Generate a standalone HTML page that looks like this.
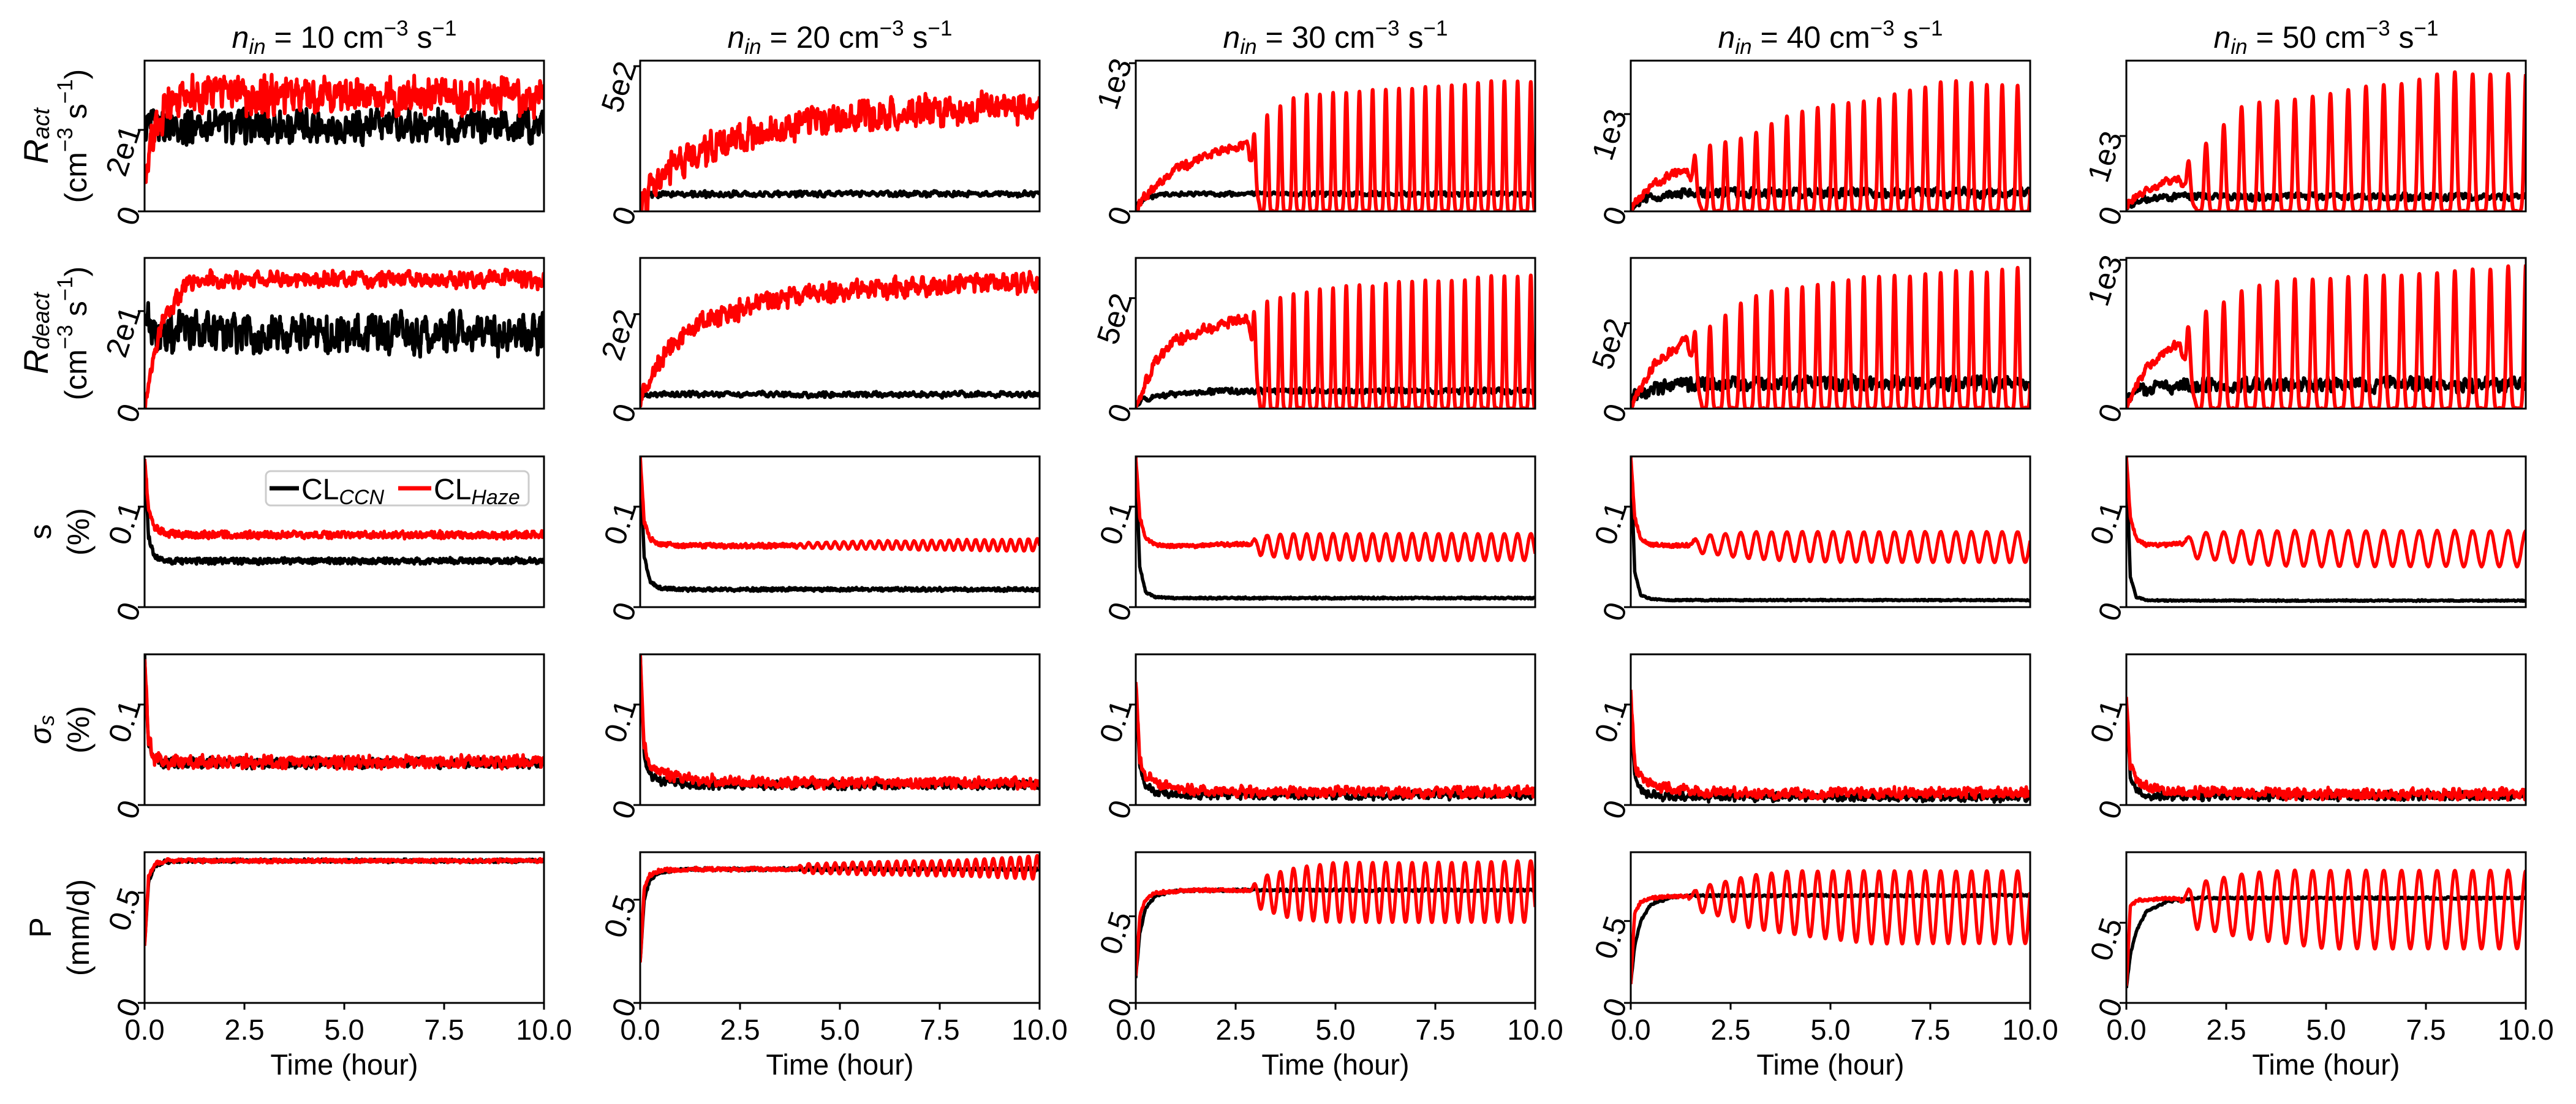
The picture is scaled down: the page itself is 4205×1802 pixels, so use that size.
<!DOCTYPE html>
<html><head><meta charset="utf-8"><style>
html,body{margin:0;padding:0;background:#fff}
svg{display:block}
text{font-family:"Liberation Sans",sans-serif;fill:#000}
</style></head><body>
<svg id="fig" xmlns="http://www.w3.org/2000/svg" width="4205" height="1802" viewBox="0 0 4205 1802">
<rect x="0" y="0" width="4205" height="1802" fill="#fff"/>
<g font-size="50" text-anchor="middle">
<text x="562" y="78"><tspan font-style="italic">n</tspan><tspan font-style="italic" font-size="35" dy="10">in</tspan><tspan dy="-10"> = 10 cm</tspan><tspan font-size="35" dy="-20">−3</tspan><tspan dy="20"> s</tspan><tspan font-size="35" dy="-20">−1</tspan></text>
<text x="1371" y="78"><tspan font-style="italic">n</tspan><tspan font-style="italic" font-size="35" dy="10">in</tspan><tspan dy="-10"> = 20 cm</tspan><tspan font-size="35" dy="-20">−3</tspan><tspan dy="20"> s</tspan><tspan font-size="35" dy="-20">−1</tspan></text>
<text x="2180" y="78"><tspan font-style="italic">n</tspan><tspan font-style="italic" font-size="35" dy="10">in</tspan><tspan dy="-10"> = 30 cm</tspan><tspan font-size="35" dy="-20">−3</tspan><tspan dy="20"> s</tspan><tspan font-size="35" dy="-20">−1</tspan></text>
<text x="2988" y="78"><tspan font-style="italic">n</tspan><tspan font-style="italic" font-size="35" dy="10">in</tspan><tspan dy="-10"> = 40 cm</tspan><tspan font-size="35" dy="-20">−3</tspan><tspan dy="20"> s</tspan><tspan font-size="35" dy="-20">−1</tspan></text>
<text x="3797" y="78"><tspan font-style="italic">n</tspan><tspan font-style="italic" font-size="35" dy="10">in</tspan><tspan dy="-10"> = 50 cm</tspan><tspan font-size="35" dy="-20">−3</tspan><tspan dy="20"> s</tspan><tspan font-size="35" dy="-20">−1</tspan></text>
</g>
<g font-size="50" text-anchor="middle" dominant-baseline="central">
<text transform="translate(58,222) rotate(-90)" font-size="56"><tspan font-style="italic">R</tspan><tspan font-style="italic" font-size="38" dy="10">act</tspan></text>
<text transform="translate(124,222) rotate(-90)">(cm<tspan font-size="35" dy="-18">−3</tspan><tspan dy="18"> s</tspan><tspan font-size="35" dy="-18">−1</tspan><tspan dy="18">)</tspan></text>
<text transform="translate(58,544) rotate(-90)" font-size="56"><tspan font-style="italic">R</tspan><tspan font-style="italic" font-size="38" dy="10">deact</tspan></text>
<text transform="translate(124,544) rotate(-90)">(cm<tspan font-size="35" dy="-18">−3</tspan><tspan dy="18"> s</tspan><tspan font-size="35" dy="-18">−1</tspan><tspan dy="18">)</tspan></text>
<text transform="translate(66,868) rotate(-90)">s</text>
<text transform="translate(128,868) rotate(-90)">(%)</text>
<text transform="translate(66,1191) rotate(-90)"><tspan font-style="italic">σ</tspan><tspan font-style="italic" font-size="35" dy="10">s</tspan></text>
<text transform="translate(128,1191) rotate(-90)">(%)</text>
<text transform="translate(66,1514) rotate(-90)">P</text>
<text transform="translate(128,1514) rotate(-90)">(mm/d)</text>
</g>
<g id="panels"></g>
<g>
<rect x="434" y="769" width="429" height="56" rx="8" fill="#fff" stroke="#cccccc" stroke-width="3"/>
<line x1="440" y1="797" x2="488" y2="797" stroke="#000" stroke-width="7"/>
<text x="492" y="815" font-size="48">CL<tspan font-style="italic" font-size="34" dy="8">CCN</tspan></text>
<line x1="650" y1="797" x2="704" y2="797" stroke="#ff0000" stroke-width="7"/>
<text x="708" y="815" font-size="48">CL<tspan font-style="italic" font-size="34" dy="8">Haze</tspan></text>
</g>
</svg>
<script>
// ---- data ----
const TIMES = [0,0.1,0.25,0.5,1,1.5,2,3,4,5,6,7,8,10];
const HOURS = [0,1,2,3,4,5,6,7,8,9,10];
const xTickValues = [0,2.5,5,7.5,10];
const xTickLabels = ['0.0','2.5','5.0','7.5','10.0'];

// row 1: R_act
const ractCcn = [
 [20,21,21,21,21,21,21,21,21,21,21,21,21,21],
 [30,50,58,60,60,60,60,60,60,60,60,60,60,60],
 [30,60,90,105,115,118,118,118,118,118,118,118,118,118],
 [40,70,110,140,170,185,190,190,190,190,190,190,190,190],
 [60,100,140,170,185,190,192,192,192,192,192,192,192,192]];
const ractHaze = [
 [8,14,20,25,28,28.5,28.5,28.5,28.5,28.5,28.5,28.5,28.5,28.5],
 [0,40,70,112,172,205,232,275,300,318,335,344,352,360],
 [0,60,110,168,286,337,404,460,460,460,460,460,460,460],
 [0,80,150,250,380,450,480,480,480,480,480,480,480,480],
 [60,120,200,280,400,440,460,460,460,460,460,460,460,460]];
const ractPeak = [null,null,
 [0,0,0,600,780,800,820,830,850,880,870],
 [0,0,680,780,1000,1100,1130,1240,1350,1300,1300],
 [0,0,900,1450,1470,1550,1660,1700,1850,1820,1830]];
const ractTrough = [null,null,[0,0,0,0,0,0,0,0,0,0,0],[0,0,0,0,0,0,0,0,0,0,0],[0,0,0,0,0,0,0,0,0,0,0]];
const ractNoiseCcn = [3.5,8,12,40,40];
const ractNoiseHaze = [4,45,25,40,40];
const ractYMax = [37,519,1017,1549,2000];
const ractTicks = [[0,20],[0,500],[0,1000],[0,1000],[0,1000]];
const ractTickLabels = [['0','2e1'],['0','5e2'],['0','1e3'],['0','1e3'],['0','1e3']];

// row 2: R_deact
const rdeactCcn = [
 [21,17,16,15.5,15.5,15.5,15.5,15.5,15.5,15.5,15.5,15.5,15.5,15.5],
 [20,28,30,30,30,30,30,30,30,30,30,30,30,30],
 [20,35,45,55,65,72,78,80,80,80,80,80,80,80],
 [40,70,90,110,130,140,145,148,148,148,148,148,148,148],
 [40,80,110,130,150,155,160,160,160,160,160,160,160,160]];
const rdeactHaze = [
 [0,6,12,19,25,26.5,26.5,26.5,26.5,26.5,26.5,26.5,26.5,26.5],
 [0,35,60,101,148,180,196,222,238,248,254,259,264,264],
 [0,60,120,216,306,340,374,420,420,420,420,420,420,420],
 [0,60,120,236,338,410,440,440,440,440,440,440,440,440],
 [0,80,150,270,400,450,450,450,450,450,450,450,450,450]];
const rdeactPeak = [null,null,
 [0,0,0,470,520,550,560,580,580,600,600],
 [0,0,483,658,709,730,774,774,803,803,832],
 [0,0,650,805,870,870,900,890,925,935,970]];
const rdeactTrough = [null,null,[0,0,0,0,0,0,0,0,0,0,0],[0,0,0,0,0,0,0,0,0,0,0],[0,0,0,0,0,0,0,0,0,0,0]];
const rdeactNoiseCcn = [3.5,5,10,35,40];
const rdeactNoiseHaze = [1.5,18,20,25,25];
const rdeactYMax = [30.9,319,682,882,1013];
const rdeactTicks = [[0,20],[0,200],[0,500],[0,500],[0,1000]];
const rdeactTickLabels = [['0','2e1'],['0','2e2'],['0','5e2'],['0','5e2'],['0','1e3']];

// row 3: s
const sCcn = [
 [0.15,0.07,0.05,0.046,0.046,0.046,0.046,0.046,0.046,0.046,0.046,0.046,0.046,0.046],
 [0.15,0.05,0.025,0.019,0.0176,0.0176,0.0176,0.0176,0.0176,0.0176,0.0176,0.0176,0.0176,0.0176],
 [0.15,0.04,0.015,0.01,0.009,0.009,0.009,0.009,0.009,0.009,0.009,0.009,0.009,0.009],
 [0.15,0.035,0.012,0.008,0.007,0.007,0.007,0.007,0.007,0.007,0.007,0.007,0.007,0.007],
 [0.15,0.03,0.01,0.007,0.0065,0.0065,0.0065,0.0065,0.0065,0.0065,0.0065,0.0065,0.0065,0.0065]];
const sHaze = [
 [0.15,0.095,0.08,0.074,0.072,0.072,0.072,0.072,0.072,0.072,0.072,0.072,0.072,0.072],
 [0.15,0.085,0.068,0.063,0.061,0.061,0.061,0.061,0.061,0.061,0.061,0.061,0.061,0.061],
 [0.15,0.09,0.068,0.062,0.061,0.061,0.062,0.063,0.063,0.063,0.063,0.063,0.063,0.063],
 [0.15,0.09,0.068,0.062,0.061,0.062,0.062,0.062,0.062,0.062,0.062,0.062,0.062,0.062],
 [0.15,0.09,0.068,0.062,0.062,0.065,0.065,0.065,0.065,0.065,0.065,0.065,0.065,0.065]];
const sPeak = [null,
 [0,0,0,0,0.064,0.065,0.066,0.066,0.067,0.067,0.068],
 [0,0,0,0.071,0.073,0.073,0.073,0.073,0.073,0.073,0.073],
 [0,0,0.072,0.075,0.075,0.075,0.075,0.075,0.075,0.075,0.075],
 [0,0,0.074,0.076,0.076,0.076,0.076,0.076,0.076,0.076,0.076]];
const sTrough = [null,
 [0,0,0,0,0.059,0.058,0.058,0.057,0.057,0.056,0.056],
 [0,0,0,0.052,0.048,0.047,0.0465,0.0465,0.0465,0.0465,0.0465],
 [0,0,0.053,0.048,0.046,0.045,0.0446,0.0446,0.0446,0.0446,0.0446],
 [0,0,0.048,0.043,0.041,0.0405,0.0405,0.0405,0.0405,0.0405,0.0405]];
const sNoiseCcn = [0.0025,0.0015,0.0008,0.0006,0.0006];
const sNoiseHaze = [0.003,0.002,0.0015,0.0015,0.0015];

// row 4: sigma_s
const sigCcn = [
 [0.15,0.06,0.045,0.042,0.042,0.042,0.042,0.042,0.042,0.042,0.042,0.042,0.042,0.042],
 [0.15,0.05,0.03,0.024,0.021,0.02,0.02,0.02,0.02,0.02,0.02,0.02,0.02,0.02],
 [0.12,0.04,0.02,0.013,0.01,0.01,0.01,0.01,0.01,0.01,0.01,0.01,0.01,0.01],
 [0.1,0.03,0.015,0.01,0.008,0.008,0.008,0.008,0.008,0.008,0.008,0.008,0.008,0.008],
 [0.1,0.03,0.015,0.01,0.009,0.009,0.009,0.009,0.009,0.009,0.009,0.009,0.009,0.009]];
const sigHaze = [
 [0.15,0.065,0.047,0.043,0.043,0.043,0.043,0.043,0.043,0.043,0.043,0.043,0.043,0.043],
 [0.15,0.06,0.04,0.032,0.027,0.025,0.024,0.023,0.022,0.022,0.022,0.022,0.022,0.022],
 [0.128,0.045,0.03,0.022,0.017,0.015,0.014,0.013,0.013,0.013,0.013,0.013,0.013,0.013],
 [0.115,0.04,0.028,0.02,0.016,0.014,0.013,0.012,0.012,0.012,0.012,0.012,0.012,0.012],
 [0.11,0.04,0.026,0.019,0.015,0.013,0.012,0.011,0.011,0.011,0.011,0.011,0.011,0.011]];
const sigNoiseCcn = [0.0045,0.0035,0.0035,0.0035,0.0035];
const sigNoiseHaze = [0.0055,0.0045,0.0045,0.0045,0.0045];
const pctYMax = [0.15,0.15,0.15,0.15,0.15];
const pctTicks = [[0,0.1],[0,0.1],[0,0.1],[0,0.1],[0,0.1]];
const pctTickLabels = [['0','0.1'],['0','0.1'],['0','0.1'],['0','0.1'],['0','0.1']];

// row 5: P
const pCcn = [
 [0.26,0.55,0.62,0.64,0.645,0.645,0.645,0.645,0.645,0.645,0.645,0.645,0.645,0.645],
 [0.2,0.5,0.6,0.63,0.645,0.648,0.648,0.648,0.648,0.648,0.648,0.648,0.648,0.648],
 [0.15,0.4,0.55,0.62,0.645,0.65,0.651,0.651,0.651,0.651,0.651,0.651,0.651,0.651],
 [0.12,0.35,0.5,0.6,0.645,0.655,0.655,0.655,0.655,0.655,0.655,0.655,0.655,0.655],
 [0.1,0.3,0.45,0.57,0.63,0.65,0.654,0.654,0.654,0.654,0.654,0.654,0.654,0.654]];
const pHaze = [
 [0.26,0.57,0.63,0.645,0.645,0.645,0.645,0.645,0.645,0.645,0.645,0.645,0.645,0.645],
 [0.2,0.55,0.62,0.64,0.645,0.648,0.648,0.648,0.648,0.648,0.648,0.648,0.648,0.648],
 [0.15,0.5,0.6,0.635,0.645,0.65,0.65,0.65,0.65,0.65,0.65,0.65,0.65,0.65],
 [0.12,0.55,0.62,0.64,0.65,0.65,0.65,0.65,0.65,0.65,0.65,0.65,0.65,0.65],
 [0.1,0.6,0.64,0.645,0.65,0.65,0.65,0.65,0.65,0.65,0.65,0.65,0.65,0.65]];
const pPeak = [null,
 [0,0,0,0,0.672,0.678,0.685,0.688,0.69,0.7,0.715],
 [0,0,0,0.72,0.78,0.81,0.81,0.81,0.81,0.815,0.82],
 [0,0,0.72,0.78,0.805,0.805,0.805,0.805,0.805,0.805,0.805],
 [0,0,0.76,0.81,0.826,0.826,0.826,0.826,0.826,0.826,0.826]];
const pTrough = [null,
 [0,0,0,0,0.63,0.625,0.62,0.618,0.615,0.607,0.6],
 [0,0,0,0.55,0.48,0.466,0.466,0.466,0.466,0.466,0.466],
 [0,0,0.55,0.456,0.42,0.39,0.362,0.362,0.362,0.362,0.362],
 [0,0,0.46,0.40,0.37,0.338,0.338,0.338,0.338,0.338,0.338]];
const pNoiseCcn = [0.006,0.006,0.006,0.006,0.006];
const pNoiseHaze = [0.007,0.008,0.008,0.008,0.008];
const pYMax = [0.684,0.73,0.87,0.92,0.94];
const pTicks = [[0,0.5],[0,0.5],[0,0.5],[0,0.5],[0,0.5]];
const pTickLabels = [['0','0.5'],['0','0.5'],['0','0.5'],['0','0.5'],['0','0.5']];

// oscillation timing per column
const firstPeak = [0,4.0,2.96,1.6,1.55];
const period = [0.3,0.22,0.33,0.385,0.445];

// ---- layout ----
const colX = [236,1045,1854,2662,3471];
const rowY = [99,421,745,1068,1391];
const PW = 652, PH = 246;
const NS = 'http://www.w3.org/2000/svg';

const rows = [
 {key:'ract', ccn:ractCcn, haze:ractHaze, peak:ractPeak, trough:ractTrough, nc:ractNoiseCcn, nh:ractNoiseHaze, ymax:ractYMax, ticks:ractTicks, tl:ractTickLabels, pulse:true, step:0.03, lw:6},
 {key:'rdeact', ccn:rdeactCcn, haze:rdeactHaze, peak:rdeactPeak, trough:rdeactTrough, nc:rdeactNoiseCcn, nh:rdeactNoiseHaze, ymax:rdeactYMax, ticks:rdeactTicks, tl:rdeactTickLabels, pulse:true, step:0.03, lw:6},
 {key:'s', ccn:sCcn, haze:sHaze, peak:sPeak, trough:sTrough, nc:sNoiseCcn, nh:sNoiseHaze, ymax:pctYMax, ticks:pctTicks, tl:pctTickLabels, pulse:false, step:0.015, lw:5.5},
 {key:'sigma', ccn:sigCcn, haze:sigHaze, peak:[null,null,null,null,null], trough:[null,null,null,null,null], nc:sigNoiseCcn, nh:sigNoiseHaze, ymax:pctYMax, ticks:pctTicks, tl:pctTickLabels, pulse:false, step:0.025, lw:5.5},
 {key:'p', ccn:pCcn, haze:pHaze, peak:pPeak, trough:pTrough, nc:pNoiseCcn, nh:pNoiseHaze, ymax:pYMax, ticks:pTicks, tl:pTickLabels, pulse:false, step:0.02, lw:5.5}
];

function lerpArr(xs, ys, t){
  if (t<=xs[0]) return ys[0];
  for (let i=1;i<xs.length;i++){ if (t<=xs[i]){ const f=(t-xs[i-1])/(xs[i]-xs[i-1]); return ys[i-1]+f*(ys[i]-ys[i-1]); } }
  return ys[ys.length-1];
}
function envAt(arr, t){
  const filled = arr.slice();
  for (let i=filled.length-2;i>=0;i--){ if (filled[i]===0 && filled[i+1]!==0) filled[i]=filled[i+1]; }
  return lerpArr(HOURS, filled, t);
}
function hash(n, seed){ const v=Math.sin(n*127.1+seed*311.7)*43758.5453; return (v-Math.floor(v))*2-1; }
function noise(t, step, seed){ const u=t/step, i=Math.floor(u), f=u-i; return hash(i,seed)*(1-f)+hash(i+1,seed)*f; }

const panelsG = document.getElementById('panels');
const N = 2200;
rows.forEach((row, r) => {
  for (let c=0;c<5;c++){
    const x0=colX[c], y0=rowY[r];
    const ymax=row.ymax[c];
    const sx = t => x0 + t/10*PW;
    const sy = v => y0 + PH - Math.max(-0.02*ymax, v)/ymax*PH;
    const g = document.createElementNS(NS,'g');
    
    
    panelsG.appendChild(g);
    const cp = document.createElementNS(NS,'clipPath');
    cp.setAttribute('id','clip-'+r+'-'+c);
    const cr = document.createElementNS(NS,'rect');
    cr.setAttribute('x',x0); cr.setAttribute('y',y0); cr.setAttribute('width',PW); cr.setAttribute('height',PH);
    cp.appendChild(cr); g.appendChild(cp);

    const series = [
      {name:'ccn', trend:row.ccn[c], amp:row.nc[c], color:'#000000', peak:null, trough:null, seed:r*10+c+1},
      {name:'haze', trend:row.haze[c], amp:row.nh[c], color:'#ff0000', peak:row.peak[c], trough:row.trough[c], seed:r*10+c+57}
    ];
    series.forEach(s => {
      const pts=[];
      const P=period[c], fp=firstPeak[c], onset=fp-P/2;
      for (let i=0;i<=N;i++){
        const t=10*i/N;
        let v = lerpArr(TIMES, s.trend, t) + s.amp*(noise(t,row.step,s.seed)*1.1 + 0.4*noise(t,row.step/3,s.seed+500));
        if (s.peak){
          const f = Math.min(1, Math.max(0, (t-onset)/P));
          if (f>0){
            const pk=envAt(s.peak,t), tr=envAt(s.trough,t);
            let w=(1+Math.cos(2*Math.PI*(t-fp)/P))/2;
            if (row.pulse) w=Math.pow(w,5);
            const osc = tr + (pk-tr)*w + s.amp*0.25*noise(t,row.step,s.seed+99);
            v = v*(1-f) + osc*f;
          }
        }
        pts.push(sx(t).toFixed(1)+','+sy(v).toFixed(1));
      }
      const pl=document.createElementNS(NS,'polyline');
      
      
      pl.setAttribute('points', pts.join(' '));
      pl.setAttribute('fill','none');
      pl.setAttribute('stroke', s.color);
      pl.setAttribute('stroke-width', row.lw);
      pl.setAttribute('stroke-linejoin','round');
      pl.setAttribute('clip-path','url(#clip-'+r+'-'+c+')');
      g.appendChild(pl);
    });

    const frame=document.createElementNS(NS,'rect');
    
    
    frame.setAttribute('x',x0); frame.setAttribute('y',y0); frame.setAttribute('width',PW); frame.setAttribute('height',PH);
    frame.setAttribute('fill','none'); frame.setAttribute('stroke','#000'); frame.setAttribute('stroke-width','3');
    g.appendChild(frame);

    row.ticks[c].forEach((tv, k) => {
      const ty = sy(tv);
      const tk=document.createElementNS(NS,'line');
      
      
      tk.setAttribute('x1',x0-11); tk.setAttribute('x2',x0); tk.setAttribute('y1',ty); tk.setAttribute('y2',ty);
      tk.setAttribute('stroke','#000'); tk.setAttribute('stroke-width','3');
      g.appendChild(tk);
      const lb=document.createElementNS(NS,'text');
      
      
      lb.setAttribute('font-size','50');
      lb.setAttribute('text-anchor','end');
      lb.setAttribute('dominant-baseline','central');
      const ax=x0-22, ay=ty-6;
      lb.setAttribute('transform','translate('+ax+','+ay+') rotate(-72)');
      lb.textContent=row.tl[c][k];
      g.appendChild(lb);
    });

    if (r===4){
      xTickValues.forEach((xv,k) => {
        const tx=sx(xv);
        const tk=document.createElementNS(NS,'line');
        
        
        tk.setAttribute('x1',tx); tk.setAttribute('x2',tx); tk.setAttribute('y1',y0+PH); tk.setAttribute('y2',y0+PH+11);
        tk.setAttribute('stroke','#000'); tk.setAttribute('stroke-width','3');
        g.appendChild(tk);
        const lb=document.createElementNS(NS,'text');
        
        
        lb.setAttribute('font-size','47');
        lb.setAttribute('text-anchor','middle');
        lb.setAttribute('x',tx); lb.setAttribute('y',y0+PH+60);
        lb.textContent=xTickLabels[k];
        g.appendChild(lb);
      });
      const xl=document.createElementNS(NS,'text');
      
      
      xl.setAttribute('font-size','47');
      xl.setAttribute('text-anchor','middle');
      xl.setAttribute('x',x0+PW/2); xl.setAttribute('y',1754);
      xl.textContent='Time (hour)';
      g.appendChild(xl);
    }
  }
});
</script>
</body></html>
